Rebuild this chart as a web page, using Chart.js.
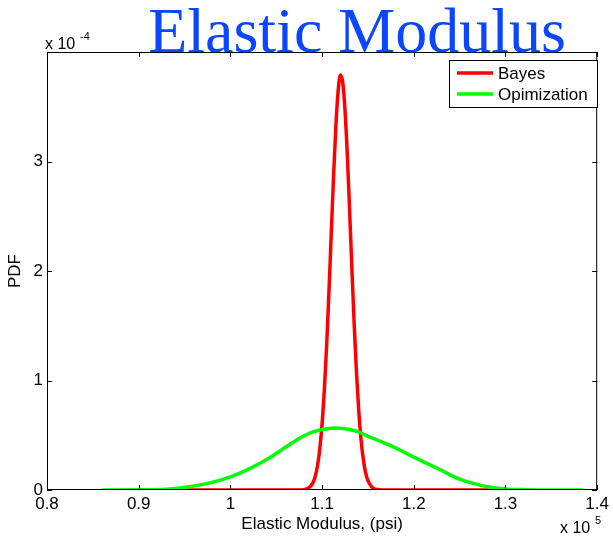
<!DOCTYPE html>
<html>
<head>
<meta charset="utf-8">
<script src="https://cdn.jsdelivr.net/npm/chart.js"></script>
<style>
  body { margin: 0; background: #fff; }
  canvas { display: block; }
</style>
</head>
<body>
<canvas id="myChart" width="613" height="541"></canvas>
<script>
// x in units of 1e5 psi, y in units of 1e-4
const bayesX = [0.944, 1.06, 1.075, 1.08, 1.085, 1.09, 1.0925, 1.095, 1.0975, 1.1, 1.1025, 1.105, 1.1075, 1.11, 1.1125, 1.115, 1.1175, 1.12, 1.1225, 1.125, 1.1275, 1.13, 1.1325, 1.135, 1.1375, 1.14, 1.1425, 1.145, 1.1475, 1.15, 1.155, 1.16, 1.165, 1.18, 1.29];
const bayesY = [0, 0, 0, 0.003, 0.016, 0.065, 0.124, 0.222, 0.376, 0.605, 0.921, 1.328, 1.812, 2.342, 2.866, 3.321, 3.644, 3.79, 3.724, 3.469, 3.06, 2.555, 2.021, 1.513, 1.073, 0.72, 0.458, 0.276, 0.157, 0.085, 0.021, 0.004, 0, 0, 0];
const optX = [0.86, 0.9, 0.93, 0.955, 0.98, 1.0, 1.02, 1.04, 1.06, 1.075, 1.09, 1.105, 1.115, 1.125, 1.14, 1.15, 1.165, 1.18, 1.2, 1.215, 1.23, 1.2475, 1.265, 1.28, 1.3, 1.32, 1.35, 1.385];
const optY = [0, 0.002, 0.008, 0.03, 0.07, 0.12, 0.19, 0.28, 0.39, 0.47, 0.53, 0.56, 0.567, 0.56, 0.53, 0.49, 0.44, 0.385, 0.3, 0.24, 0.18, 0.107, 0.06, 0.03, 0.01, 0.003, 0, 0];

const xTicks = [0.8, 0.9, 1.0, 1.1, 1.2, 1.3, 1.4];
const xTickLabels = ['0.8', '0.9', '1', '1.1', '1.2', '1.3', '1.4'];
const yTicks = [0, 1, 2, 3, 4];
const yTickLabels = ['0', '1', '2', '3', ''];

const seriesNames = ['Bayes', 'Opimization'];
const titleText = 'Elastic Modulus';
const xTitle = 'Elastic Modulus, (psi)';
const yTitle = 'PDF';

const sansFont = "'Liberation Sans', Arial, sans-serif";

function toPoints(xs, ys) {
  return xs.map((x, i) => ({ x: x, y: ys[i] }));
}

// box, inward ticks, legend, title and exponents (matlab look)
const matlabPlugin = {
  id: 'matlab',
  afterDraw(chart) {
    const ctx = chart.ctx;
    const area = chart.chartArea;
    const xs = chart.scales.x;
    const ys = chart.scales.y;
    ctx.save();
    ctx.strokeStyle = '#000';
    ctx.lineWidth = 1;
    ctx.strokeRect(area.left + 0.5, area.top + 0.5, area.right - area.left - 1, area.bottom - area.top - 1);
    const tl = 5;
    ctx.beginPath();
    xTicks.forEach((v) => {
      const px = Math.round(xs.getPixelForValue(v)) + 0.5;
      ctx.moveTo(px, area.bottom);
      ctx.lineTo(px, area.bottom - tl);
      ctx.moveTo(px, area.top);
      ctx.lineTo(px, area.top + tl);
    });
    yTicks.forEach((v) => {
      const py = Math.round(ys.getPixelForValue(v)) + 0.5;
      ctx.moveTo(area.left, py);
      ctx.lineTo(area.left + tl, py);
      ctx.moveTo(area.right, py);
      ctx.lineTo(area.right - tl, py);
    });
    ctx.stroke();

    // legend
    const lx = 449, ly = 60, lw = 148, lh = 47;
    ctx.fillStyle = '#fff';
    ctx.fillRect(lx, ly, lw, lh);
    ctx.strokeRect(lx + 0.5, ly + 0.5, lw, lh);
    ctx.font = '17px ' + sansFont;
    ctx.textBaseline = 'middle';
    ctx.textAlign = 'left';
    chart.data.datasets.forEach((ds, i) => {
      const y = ly + 13 + i * 21;
      ctx.strokeStyle = ds.borderColor;
      ctx.lineWidth = 3.5;
      ctx.beginPath();
      ctx.moveTo(lx + 8, y);
      ctx.lineTo(lx + 44, y);
      ctx.stroke();
      ctx.fillStyle = '#000';
      ctx.fillText(ds.label, lx + 49, y + 1);
    });

    // exponents
    ctx.fillStyle = '#000';
    ctx.font = '16px ' + sansFont;
    ctx.textBaseline = 'alphabetic';
    ctx.fillText('x 10', 45, 49);
    ctx.font = '11px ' + sansFont;
    ctx.fillText('-4', 80, 40);
    ctx.font = '16px ' + sansFont;
    ctx.fillText('x 10', 560, 533);
    ctx.font = '11px ' + sansFont;
    ctx.fillText('5', 595, 524);

    // title
    ctx.fillStyle = '#0a45ff';
    ctx.font = "64px 'Liberation Serif', 'Times New Roman', serif";
    ctx.textAlign = 'center';
    ctx.fillText(titleText, 357, 52);
    ctx.restore();
  },
};

const ctx = document.getElementById('myChart');
const myChart = new Chart(ctx, {
  type: 'scatter',
  data: {
    datasets: [
      {
        label: seriesNames[0],
        data: toPoints(bayesX, bayesY),
        borderColor: '#ff0000',
        backgroundColor: '#ff0000',
        borderWidth: 3.5,
        showLine: true,
        pointRadius: 0,
        cubicInterpolationMode: 'monotone',
        borderJoinStyle: 'round',
        order: 1,
      },
      {
        label: seriesNames[1],
        data: toPoints(optX, optY),
        borderColor: '#00ff00',
        backgroundColor: '#00ff00',
        borderWidth: 3.5,
        showLine: true,
        pointRadius: 0,
        cubicInterpolationMode: 'monotone',
        borderJoinStyle: 'round',
        order: 0,
      },
    ],
  },
  options: {
    responsive: false,
    animation: false,
    layout: { padding: { top: 52, right: 12, left: 0, bottom: 0 } },
    plugins: {
      legend: { display: false },
      tooltip: { enabled: false },
    },
    scales: {
      x: {
        type: 'linear',
        min: 0.8,
        max: 1.4,
        afterBuildTicks: (scale) => {
          scale.ticks = xTicks.map((v) => ({ value: v }));
        },
        afterFit: (scale) => {
          scale.height = 51;
        },
        grid: { display: false, drawTicks: false },
        border: { display: false },
        ticks: {
          color: '#000',
          font: { family: sansFont, size: 17 },
          padding: 4,
          maxRotation: 0,
          autoSkip: false,
          callback: (v, i) => xTickLabels[i],
        },
        title: {
          display: true,
          text: xTitle,
          color: '#000',
          font: { family: sansFont, size: 17 },
          padding: { top: 0, bottom: 6 },
        },
      },
      y: {
        type: 'linear',
        min: 0,
        max: 4,
        afterBuildTicks: (scale) => {
          scale.ticks = yTicks.map((v) => ({ value: v }));
        },
        afterFit: (scale) => {
          scale.width = 47;
        },
        grid: { display: false, drawTicks: false },
        border: { display: false },
        ticks: {
          color: '#000',
          font: { family: sansFont, size: 17 },
          padding: 4,
          autoSkip: false,
          callback: (v, i) => yTickLabels[i],
        },
        title: {
          display: true,
          text: yTitle,
          color: '#000',
          font: { family: sansFont, size: 17 },
          padding: { top: 5, bottom: 0 },
        },
      },
    },
  },
  plugins: [matlabPlugin],
});
</script>
</body>
</html>
